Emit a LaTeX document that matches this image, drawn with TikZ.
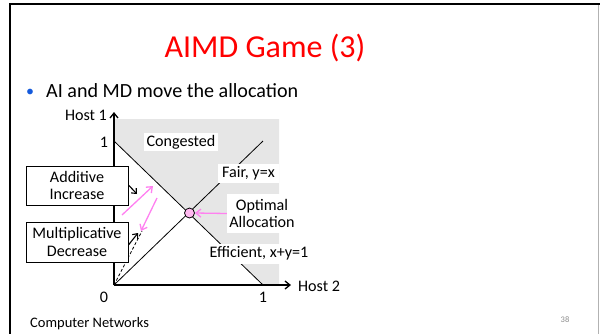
\documentclass[tikz,border=0pt]{standalone}
\usepackage{fontspec}
\setmainfont{Carlito}
\usetikzlibrary{arrows.meta}
\definecolor{titlered}{RGB}{255,0,0}
\definecolor{pinkline}{RGB}{255,128,240}
\definecolor{pinkfill}{RGB}{255,185,240}
\definecolor{greyarea}{RGB}{230,230,230}
\definecolor{bulletblue}{RGB}{20,90,220}
\tikzset{
  lbl/.style={font=\fontsize{16.1}{17.5}\selectfont, inner sep=0pt, align=center},
  wlbl/.style={lbl, fill=white},
  boxlbl/.style={lbl, draw=black, line width=0.9pt, fill=white, minimum width=102pt},
  axis/.style={line width=1.4pt, -{Straight Barb[length=5pt,width=8pt,line width=1.3pt]}},
  diag/.style={line width=0.8pt},
  blackarr/.style={line width=1.1pt, -{Straight Barb[length=4pt,width=7pt,line width=1.1pt]}},
  pinkarr/.style={pinkline, line width=1.3pt, -{Straight Barb[length=5pt,width=8pt,line width=1.3pt]}},
}
\begin{document}
\begin{tikzpicture}[x=1pt,y=-1pt]
\useasboundingbox (0,0) rectangle (600,333);
% slide frame
\draw[black, line width=2.2pt] (10,335) -- (10,4) -- (600,4);
\draw[black!30, line width=1pt] (598.5,5) -- (598.5,335);
% title and bullet
\node[titlered, font=\fontsize{32}{36}\selectfont, anchor=base] (title) at (265,57) {AIMD Game (3)};
\node[bulletblue, font=\fontsize{16}{18}\selectfont, anchor=base] (bullet) at (30,96) {•};
\node[font=\fontsize{20.1}{24}\selectfont, anchor=base west, inner sep=0pt] (btext) at (46,97) {AI and MD move the allocation};
% grey region
\fill[greyarea] (114,119) -- (279,119) -- (279,285) -- (263,285) -- (114,141) -- cycle;
% coordinates
\coordinate (O) at (114,285);
\coordinate (Y1) at (114,141);
\coordinate (X1) at (263,285);
\coordinate (F1) at (263,141);
\coordinate (ytop) at (114,112);
\coordinate (xend) at (291,285);
% lines
\draw[diag] (Y1) -- (X1);
\draw[diag] (O) -- (F1);
\draw[line width=0.8pt, dashed, dash pattern=on 3pt off 2pt] (O) -- (142,231);
% axes
\draw[axis] (O) -- (ytop);
\draw[axis] (O) -- (xend);
% labels
\node[lbl, anchor=base] (h1) at (86,120) {Host 1};
\node[lbl, anchor=base west] (h2) at (298,291) {Host 2};
\node[lbl] (y1) at (104,142) {1};
\node[lbl] (x1) at (263,297) {1};
\node[lbl] (z0) at (104,297) {0};
\node[wlbl, minimum width=74pt, minimum height=18pt] (cong) at (181,142) {Congested};
\node[wlbl, minimum width=61pt, minimum height=19pt] (fair) at (248.5,173.5) {Fair, y=x};
\node[wlbl, minimum width=70pt, minimum height=39pt] (opt) at (262,213.5) {Optimal\\Allocation};
\node[wlbl, minimum width=102pt, minimum height=20pt] (eff) at (259,253.5) {Efficient, x+y=1};
% boxes
\node[boxlbl, minimum height=39pt] (ai) at (77,185.5) {Additive\\Increase};
\node[boxlbl, minimum height=40pt] (md) at (77,242) {Multiplicative\\Decrease};
% optimal point
\node[circle, draw=black, line width=0.8pt, fill=pinkfill, minimum size=10pt, inner sep=0pt] (pt) at (189.5,213) {};
% arrows
\draw[pinkarr] (opt.west) -- (pt.east);
\draw[blackarr] (ai.east |- 0,185) -- (137,194);
\draw[blackarr] (md.east |- 0,245) -- (138,233);
\coordinate (p1s) at (122,215);
\coordinate (p1e) at (153,186);
\coordinate (p2s) at (157,198);
\coordinate (p2e) at (141,231);
\draw[pinkarr] (p1s) -- (p1e);
\draw[pinkarr] (p2s) -- (p2e);
% footer
\node[font=\fontsize{14.5}{16}\selectfont, anchor=west, inner sep=0pt] (foot) at (30,324) {Computer Networks};
\node[black!45, font=\fontsize{8.5}{10}\selectfont, inner sep=0pt] (pg) at (565,320) {38};
\end{tikzpicture}
\end{document}
